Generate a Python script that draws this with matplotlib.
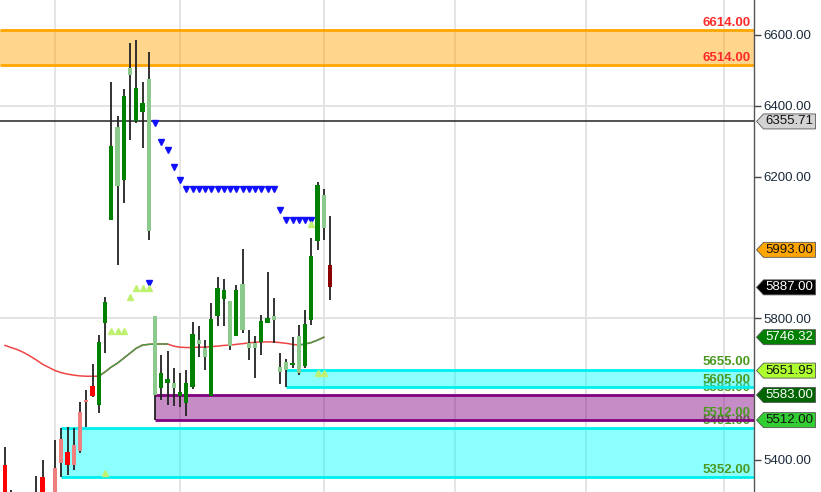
import matplotlib
matplotlib.use('Agg')
import matplotlib.pyplot as plt
import numpy as np
from matplotlib.patches import Polygon, Rectangle
from matplotlib.transforms import IdentityTransform, blended_transform_factory

plt.rcParams['font.family'] = ['Liberation Sans', 'DejaVu Sans']

nan = np.nan

# ========== Data (one entry per bar) ==========
opens = [5385, 5300, nan, nan, nan, 5300, 5350, nan, 5376, 5458,
         5422, 5443, 5534, 5568, 5609, 5555, 5787, 6077, 6174, 6190,
         6487, 6358, 6382, 6047, 5583, 5602, 5618, 5602, 5581, 5559,
         5606, 5727, 5691, 5580, 5806, 5853, 5721, 5750, 5766, 5715,
         5715, 5733, 5787, 5795, 5649, 5655, 5668, 5646, 5665, 5795,
         6019, 6054, 5950]
highs = [5437, 5314, nan, nan, nan, 5355, 5399, nan, 5456, 5491,
         5492, 5490, 5562, 5597, 5670, 5752, 5860, 6468, 6371, 6446,
         6576, 6586, 6468, 6551, 5806, 5696, 5706, 5660, 5644, 5653,
         5790, 5778, 5738, 5842, 5917, 5910, 5848, 5894, 5994, 5766,
         5750, 5809, 5931, 5856, 5701, 5686, 5747, 5782, 5823, 6026,
         6184, 6164, 6089]
lows = [5260, 5240, nan, nan, nan, 5260, 5270, nan, 5270, 5352,
        5357, 5371, 5418, 5493, 5576, 5531, 5702, 6077, 5950, 6126,
        6303, 6350, 6282, 6021, 5512, 5569, 5555, 5552, 5550, 5524,
        5599, 5690, 5653, 5580, 5778, 5778, 5710, 5750, 5757, 5682,
        5632, 5696, 5785, 5731, 5614, 5605, 5659, 5639, 5659, 5781,
        5992, 6021, 5851]
closes = [5285, 5270, nan, nan, nan, 5290, 5290, nan, 5290, 5390,
          5384, 5384, 5425, 5564, 5581, 5733, 5846, 6287, 6341, 6428,
          6506, 6449, 6407, 6476, 5806, 5644, 5627, 5618, 5592, 5616,
          5754, 5738, 5715, 5797, 5885, 5879, 5848, 5879, 5896, 5729,
          5729, 5793, 5800, 5806, 5663, 5675, 5672, 5749, 5783, 5976,
          6176, 6148, 5887]
# bar kind: R down, r faded down, G up, g faded up, D last bar
bar_kind = list("RR...RR.rrRrrrRGGGgGgGGggGGgGGGggGGGgGgggGGgggGgGGGgD")

ma_values = [5723, 5717, 5711, 5703, 5693, 5682, 5670, 5661, 5652, 5646,
             5642, 5639, 5637, 5636, 5636, 5636, 5648, 5662, 5673, 5687,
             5701, 5715, 5724, 5726, 5727, 5727, 5727, 5721, 5718, 5717,
             5717, 5718, 5718, 5720, 5721, 5723, 5724, 5726, 5728, 5730,
             5732, 5733, 5733, 5733, 5731, 5729, 5726, 5724, 5727, 5731,
             5738, 5746, nan]
ma_green_spans = [(15, 26), (47, 51)]

stop_short = [nan] * 23 + [5898, 6350, 6299, 6275, 6226, 6190] + [6165] * 15 + [6106] + [6077] * 5 + [nan] * 3
stop_long = [nan] * 16 + [5362, 5764, 5764, 5764, 5859, 5884, 5884, 5884] + [nan] * 25 + [6065, 5646, 5646, nan]

zone_start = [-1, 45, 24, 9]
zone_top = [6614, 5655, 5583, 5491]
zone_bottom = [6514, 5605, 5512, 5352]

zone_text_values = [6614.00, 6514.00, 5655.00, 5605.00, 5583.00, 5512.00, 5491.00, 5352.00]

last_line = 6355.71
label_values = [6355.71, 5993.00, 5887.00, 5746.32, 5651.95, 5583.00, 5512.00]

y_ticks = [5400, 5800, 6200, 6400, 6600]
v_grid_bars = [8, 28, 51, 72, 93, 115]
h_grid = [5800, 6400]

# ========== Style ==========
kind_color = {'R': '#ff0000', 'r': '#f08080', 'G': '#008000',
              'g': '#8cc98c', 'D': '#8b0000'}
zone_face = ['#ffa500', '#00ffff', '#800080', '#00ffff']
zone_edge = ['#ffa500', '#00f0f0', '#800080', '#00f0f0']
zone_text_color = ['#ff2a2a', '#ff2a2a'] + ['#4a9a22'] * 6
# labels that sit behind the zones in the original
zone_text_back = [False, False, False, False, True, False, True, False]
label_face = ['#d3d3d3', '#ffa500', '#000000', '#008000', '#adff2f', '#006400', '#32cd32']
label_text = ['#111111', '#111111', '#ffffff', '#ffffff', '#111111', '#ffffff', '#111111']

# ========== Plot ==========
fig = plt.figure(figsize=(8.21, 4.92), dpi=100)
ax = fig.add_axes([0, 0, 754 / 821, 1])
ax.set_xlim(-0.8, 119.84)
ax.set_ylim(5309, 6698.7)

for b in v_grid_bars:
    ax.axvline(b, color='#e4e4e4', lw=1.4, zorder=0)
for h in h_grid:
    ax.axhline(h, color='#e4e4e4', lw=1.4, zorder=0)

# zone price texts
trans = blended_transform_factory(ax.transAxes, ax.transData)
for v, c, back in zip(zone_text_values, zone_text_color, zone_text_back):
    ax.text(0.996, v + 3, f'{v:.2f}', transform=trans, ha='right', va='bottom',
            color=c, fontsize=9.5, fontweight='bold', zorder=0.5 if back else 1.5)

# zones
for s, top, bot, fc, ec in zip(zone_start, zone_top, zone_bottom, zone_face, zone_edge):
    x0 = max(s, -0.8)
    ax.add_patch(Rectangle((x0, bot), 119.84 - x0, top - bot, facecolor=fc,
                           alpha=0.45, edgecolor='none', zorder=1))
    ax.hlines([top, bot], x0, 119.84, color=ec, lw=2, zorder=1.2)

# moving average
bars = np.arange(len(opens))
ma = np.array(ma_values, dtype=float)
ax.plot(bars, ma, color='#ee3030', lw=1.1, alpha=0.9, zorder=2)
for a, b in ma_green_spans:
    ax.plot(bars[a:b + 1], ma[a:b + 1], color='#4a9a4a', lw=1.1, zorder=2.1)

# candles
for i in bars:
    if np.isnan(opens[i]):
        continue
    ax.vlines(i, lows[i], highs[i], color='#222222', lw=1.3, zorder=3)
    lo, hi = min(opens[i], closes[i]), max(opens[i], closes[i])
    ax.add_patch(Rectangle((i - 0.33, lo), 0.66, max(hi - lo, 3),
                           facecolor=kind_color[bar_kind[i]], edgecolor='none', zorder=3.5))

ax.plot(bars, stop_short, ls='none', marker='v', ms=4.8, color='#1010ff', zorder=4)
ax.plot(bars, stop_long, ls='none', marker='^', ms=4.8, color='#c0f070', zorder=4)

ax.axhline(last_line, color='#222222', lw=1.1, zorder=2.5)

# axis styling
for side in ['left', 'top', 'bottom']:
    ax.spines[side].set_visible(False)
ax.spines['right'].set_color('#555555')
ax.spines['right'].set_linewidth(1.0)
ax.set_xticks([])
ax.yaxis.tick_right()
ax.set_yticks(y_ticks)
ax.set_yticklabels([f'{t:.2f}' for t in y_ticks])
ax.tick_params(axis='y', length=5, width=1, color='#444444', labelcolor='#1c2b3c',
               labelsize=9.5, pad=2)

# price labels on the right axis
for v, fc, tc in zip(label_values, label_face, label_text):
    _, yc = ax.transData.transform((0, v))
    x0 = 756.5
    verts = [(x0, yc), (x0 + 7, yc + 7.5), (x0 + 59, yc + 7.5),
             (x0 + 59, yc - 7.5), (x0 + 7, yc - 7.5)]
    fig.add_artist(Polygon(verts, closed=True, facecolor=fc, edgecolor='#555555',
                           lw=0.6, transform=IdentityTransform()))
    fig.text(x0 + 9, yc, f'{v:.2f}', transform=IdentityTransform(), ha='left',
             va='center', color=tc, fontsize=9.5)

fig.savefig('out.png', dpi=100)
